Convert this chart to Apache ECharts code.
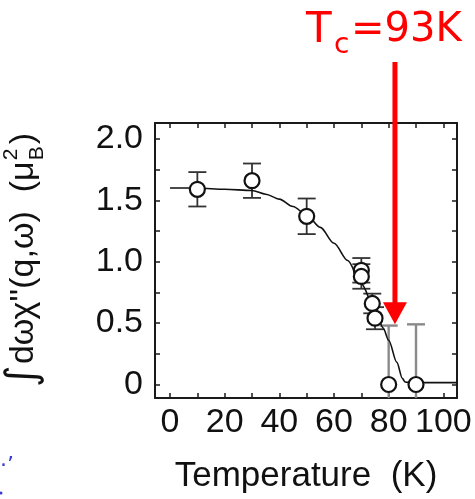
<!DOCTYPE html>
<html>
<head>
<meta charset="utf-8">
<script src="https://cdn.jsdelivr.net/npm/echarts@6/dist/echarts.min.js"></script>
<style>
  html, body { margin: 0; padding: 0; background: #fff; }
  #c { width: 475px; height: 499px; }
</style>
</head>
<body>
<div id="c"></div>
<script>
// Axis ticks and labels
const tempLabels = [0, 20, 40, 60, 80, 100];
const tempTicks = [0, 10, 20, 30, 40, 50, 60, 70, 80, 90, 100];
const intLabels = [0, 0.5, 1.0, 1.5, 2.0];
const intTicks = [0, 0.25, 0.5, 0.75, 1.0, 1.25, 1.5, 1.75, 2.0];

// Measured integrated intensity (mu_B^2) vs temperature (K)
const temps = [10, 30, 50, 70, 70, 74, 75, 80, 90];
const intensity = [1.59, 1.66, 1.37, 0.93, 0.88, 0.66, 0.54, 0, 0];
const intensityErr = [0.14, 0.14, 0.145, 0.1, 0.1, 0.08, 0.09, 0.48, 0.49];

// Order-parameter fit curve
const fitT = [0, 10, 20, 30, 35, 40, 45, 50, 55, 60, 65, 70, 75, 78, 80, 83, 85, 86, 88, 105];
const fitI = [1.60, 1.60, 1.59, 1.58, 1.55, 1.51, 1.45, 1.38, 1.28, 1.15, 1.01, 0.82, 0.61, 0.46, 0.36, 0.18, 0.05, 0.02, 0.015, 0.015];

// Tc arrow position (temperature, tip value)
const arrowT = 82.3;
const arrowTip = 0.49;

const FONT = 'Liberation Sans';
const INK = '#1a1a1a';

const chart = echarts.init(document.getElementById('c'), null, { renderer: 'canvas' });

function makeX(pos, withLabels) {
  return {
    type: 'value', position: pos, min: -5.5, max: 105,
    axisLine: { show: true, onZero: false, lineStyle: { color: INK, width: 2 } },
    axisTick: { show: true, inside: true, length: 5, customValues: tempTicks, lineStyle: { color: INK, width: 1.5 } },
    axisLabel: withLabels
      ? { show: true, customValues: tempLabels, fontSize: 34, fontFamily: FONT, color: '#111', margin: 8, hideOverlap: false }
      : { show: false },
    splitLine: { show: false },
    name: withLabels ? 'Temperature  (K)' : '',
    nameLocation: 'middle', nameGap: 61,
    nameTextStyle: { fontSize: 35, fontFamily: FONT, color: '#111' }
  };
}
function makeY(pos, withLabels) {
  return {
    type: 'value', position: pos, min: -0.11, max: 2.13,
    axisLine: { show: true, onZero: false, lineStyle: { color: INK, width: 2 } },
    axisTick: { show: true, inside: true, length: 5, customValues: intTicks, lineStyle: { color: INK, width: 1.5 } },
    axisLabel: withLabels
      ? { show: true, customValues: intLabels, fontSize: 34, fontFamily: FONT, color: '#111', margin: 12,
          formatter: v => (v === 0 ? '0' : v.toFixed(1)) }
      : { show: false },
    splitLine: { show: false }
  };
}

const pts = temps.map((t, i) => [t, intensity[i]]);
const bars = temps.map((t, i) => [t, intensity[i] - intensityErr[i], intensity[i] + intensityErr[i], i]);
const fit = fitT.map((t, i) => [t, fitI[i]]);

chart.setOption({
  animation: false,
  backgroundColor: '#fff',
  grid: { left: 155, right: 18, top: 123, bottom: 96, containLabel: false },
  xAxis: [makeX('bottom', true), makeX('top', false)],
  yAxis: [makeY('left', true), makeY('right', false)],
  series: [
    {
      type: 'custom', xAxisIndex: 0, yAxisIndex: 0, clip: true, silent: true, z: 2,
      data: bars,
      encode: { x: 0, y: [1, 2] },
      renderItem: function (params, api) {
        const x = api.value(0);
        const lo = api.coord([x, api.value(1)]);
        const hi = api.coord([x, api.value(2)]);
        const idx = api.value(3);
        const col = idx >= 7 ? '#8a8a8a' : '#333';
        const w = idx >= 7 ? 2.4 : 1.8;
        const cap = 9;
        const st = { stroke: col, lineWidth: w };
        return {
          type: 'group',
          children: [
            { type: 'line', shape: { x1: lo[0], y1: lo[1], x2: hi[0], y2: hi[1] }, style: st },
            { type: 'line', shape: { x1: hi[0] - cap, y1: hi[1], x2: hi[0] + cap, y2: hi[1] }, style: st },
            { type: 'line', shape: { x1: lo[0] - cap, y1: lo[1], x2: lo[0] + cap, y2: lo[1] }, style: st }
          ]
        };
      }
    },
    {
      type: 'line', xAxisIndex: 0, yAxisIndex: 0, data: fit, symbol: 'none', smooth: 0.3,
      smoothMonotone: 'x', silent: true, z: 3,
      lineStyle: { color: '#111', width: 1.6 }
    },
    {
      type: 'scatter', xAxisIndex: 0, yAxisIndex: 0, data: pts, symbol: 'circle', symbolSize: 15,
      silent: true, z: 5,
      itemStyle: { color: '#fff', borderColor: '#111', borderWidth: 2.2, opacity: 1 }
    }
  ]
});

// Rotated y-axis title built from pieces (integral, chi'', mu with sub/superscript)
const ctx = document.createElement('canvas').getContext('2d');
function tw(txt, size, fam) { ctx.font = size + 'px "' + (fam || FONT) + '"'; return ctx.measureText(txt).width; }
const mainSize = 34, scriptSize = 21;
const pieces = [
  { t: '\u222B', size: 42, fam: 'DejaVu Sans', dy: 0 },
  { t: 'd\u03C9\u03C7\'\'(q,\u03C9)  (\u03BC', size: mainSize, dy: 0 },
];
let cursor = 0;
const children = [];
pieces.forEach(p => {
  children.push({ type: 'text', x: cursor, y: p.dy,
    style: { text: p.t, font: p.size + 'px "' + (p.fam || FONT) + '"', fill: '#111', align: 'left', verticalAlign: 'middle' } });
  cursor += tw(p.t, p.size, p.fam) + (p.t === '\u222B' ? 1 : 0);
});
children.push({ type: 'text', x: cursor + 1, y: -13,
  style: { text: '2', font: scriptSize + 'px "' + FONT + '"', fill: '#111', align: 'left', verticalAlign: 'middle' } });
children.push({ type: 'text', x: cursor + 1, y: 13,
  style: { text: 'B', font: scriptSize + 'px "' + FONT + '"', fill: '#111', align: 'left', verticalAlign: 'middle' } });
cursor += Math.max(tw('2', scriptSize), tw('B', scriptSize)) + 3;
children.push({ type: 'text', x: cursor, y: 0,
  style: { text: ')', font: mainSize + 'px "' + FONT + '"', fill: '#111', align: 'left', verticalAlign: 'middle' } });
cursor += tw(')', mainSize);
const totalLen = cursor;
const titleCenterY = 260;

// Tc arrow placed from the axis scale
const tip = chart.convertToPixel({ xAxisIndex: 0, yAxisIndex: 0 }, [arrowT, arrowTip]);
const shaftTop = 62, headH = 22, headW = 24, shaftW = 5;

chart.setOption({
  graphic: [
    {
      type: 'group', x: 24, y: titleCenterY + totalLen / 2, rotation: Math.PI / 2, silent: true,
      children: children
    },
    {
      type: 'rect', silent: true,
      shape: { x: tip[0] - shaftW / 2, y: shaftTop, width: shaftW, height: tip[1] - headH - shaftTop + 1 },
      style: { fill: '#ff0000' }, z: 10
    },
    {
      type: 'polygon', silent: true,
      shape: { points: [[tip[0] - headW / 2, tip[1] - headH], [tip[0] + headW / 2, tip[1] - headH], [tip[0], tip[1]]] },
      style: { fill: '#ff0000' }, z: 10
    },
    { type: 'text', x: 306, y: 31, silent: true,
      style: { text: 'T', font: '42px "DejaVu Sans"', fill: '#ff0000', align: 'left', verticalAlign: 'middle' } },
    { type: 'text', x: 334, y: 46, silent: true,
      style: { text: 'c', font: '28px "DejaVu Sans"', fill: '#ff0000', align: 'left', verticalAlign: 'middle' } },
    { type: 'text', x: 351, y: 31, silent: true,
      style: { text: '=93K', font: '40px "DejaVu Sans"', fill: '#ff0000', align: 'left', verticalAlign: 'middle' } },
    { type: 'text', x: 0, y: 466, silent: true,
      style: { text: '\u00B7\u2019', font: '22px "DejaVu Sans"', fill: '#3a3ad0', align: 'left', verticalAlign: 'middle' } },
    { type: 'circle', silent: true, shape: { cx: 1, cy: 493, r: 1.5 }, style: { fill: '#3a3ad0' } }
  ]
});
</script>
</body>
</html>
